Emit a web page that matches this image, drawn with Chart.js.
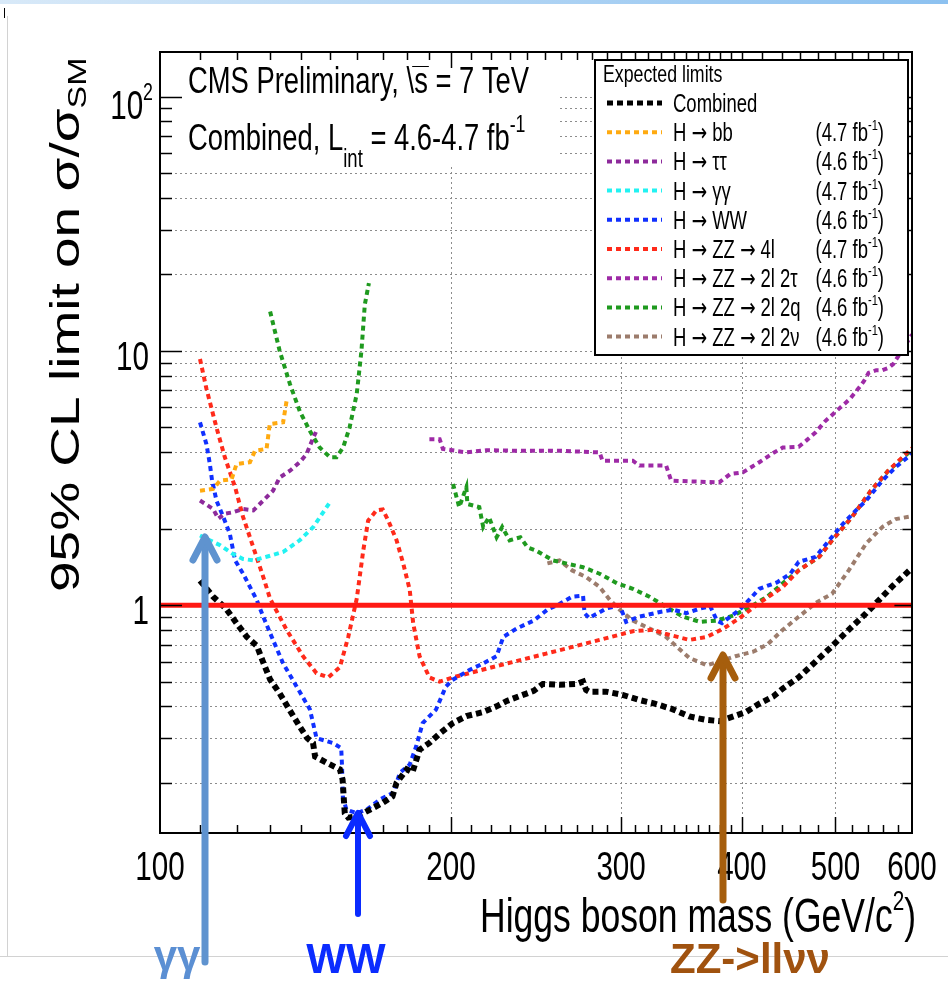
<!DOCTYPE html>
<html>
<head>
<meta charset="utf-8">
<script src="https://cdn.jsdelivr.net/npm/chart.js@4.4.1/dist/chart.umd.min.js"></script>
<style>
  html, body { margin: 0; padding: 0; background: #fff; }
  canvas { display: block; }
</style>
</head>
<body>
<canvas id="c" width="948" height="984"></canvas>
<script>
// expected 95% CL limits on sigma/sigma_SM vs Higgs mass (GeV/c^2)
const massCombined = [110, 113.5, 117, 120, 123, 126, 128, 130, 133, 136, 139.5, 142, 144, 144.7, 148.7, 153.5, 154.5, 155.3, 156.6, 160, 165, 170, 174, 175.7, 180, 182.5, 185.6, 190, 195, 201, 207.5, 216, 223, 228.5, 236, 243.6, 249, 259, 270, 274, 276, 278, 289.5, 301, 313, 325, 339, 353, 367, 379, 392, 404, 417, 431, 441, 458, 477, 496, 516, 538, 555, 573, 600];
const limitCombined = [1.25, 1.08, 0.97, 0.85, 0.75, 0.69, 0.59, 0.51, 0.45, 0.39, 0.333, 0.30, 0.287, 0.254, 0.24, 0.226, 0.206, 0.152, 0.146, 0.148, 0.157, 0.167, 0.177, 0.20, 0.226, 0.22, 0.27, 0.287, 0.314, 0.344, 0.366, 0.38, 0.40, 0.42, 0.44, 0.46, 0.49, 0.486, 0.49, 0.50, 0.464, 0.457, 0.457, 0.444, 0.424, 0.41, 0.39, 0.365, 0.354, 0.35, 0.365, 0.38, 0.41, 0.437, 0.47, 0.52, 0.60, 0.69, 0.80, 0.93, 1.05, 1.19, 1.40];

const massBB = [110, 113.5, 115.4, 118.6, 120, 123.9, 125.4, 128.9, 129.9, 134.1, 135.2];
const limitBB = [2.82, 2.87, 3.09, 3.13, 3.59, 3.65, 4.05, 4.12, 5.16, 5.24, 6.36];

const massTauTau = [110, 113.5, 114.9, 116.7, 119, 121.9, 124.9, 127.9, 130.9, 133, 136.3, 139.5, 141.8, 144.1, 145];
const limitTauTau = [2.58, 2.39, 2.19, 2.29, 2.32, 2.39, 2.36, 2.58, 2.82, 3.18, 3.38, 3.65, 3.93, 4.57, 4.8];

const massGamGam = [110, 112.6, 115.4, 119, 121.9, 124.9, 128.9, 134.1, 139.5, 144.1, 150];
const limitGamGam = [1.88, 1.80, 1.72, 1.59, 1.52, 1.50, 1.55, 1.62, 1.80, 2.03, 2.55];

const massWW = [110, 111.7, 112.6, 113.2, 114.4, 116.3, 118.1, 119.6, 121.9, 123.9, 125.9, 127.9, 130.9, 134.1, 138.4, 142.9, 145.2, 151, 154, 154.3, 154.6, 155.9, 159.8, 163.6, 168.9, 174.3, 177.1, 181.3, 184.1, 187, 193, 197.6, 200.7, 209, 216, 223, 226.6, 234, 243.6, 251.7, 259, 267, 274, 275, 278, 289.5, 299, 303.6, 313, 329, 339.5, 350.5, 362, 371, 377, 381.5, 389, 398, 408, 417, 435, 449, 458, 477, 492.5, 509, 525, 538, 559, 577, 594, 600];
const limitWW = [5.24, 4.3, 3.6, 3.1, 2.58, 2.22, 1.91, 1.50, 1.33, 1.18, 1.05, 0.90, 0.73, 0.59, 0.48, 0.39, 0.30, 0.287, 0.274, 0.232, 0.177, 0.157, 0.152, 0.157, 0.172, 0.183, 0.219, 0.236, 0.278, 0.344, 0.388, 0.478, 0.508, 0.556, 0.59, 0.63, 0.75, 0.81, 0.87, 0.96, 1.01, 1.08, 1.09, 0.93, 0.89, 0.97, 1.0, 0.86, 0.90, 0.94, 0.96, 0.93, 0.97, 0.99, 0.87, 0.85, 0.90, 0.96, 1.06, 1.16, 1.23, 1.33, 1.48, 1.55, 1.80, 2.09, 2.36, 2.58, 3.09, 3.49, 3.82, 3.95];

const massZZ4l = [110, 111.7, 114.4, 116.7, 119.6, 121.9, 124.9, 127.9, 130, 135.2, 140.6, 145.2, 149.3, 153.5, 156.6, 159.8, 162.3, 164.2, 167.5, 170, 172.3, 175.7, 178.5, 181.3, 182.8, 185.6, 190, 194.7, 201, 224.6, 251, 285, 308.5, 323.6, 334, 353, 368, 383, 398, 417, 441, 458, 481, 496, 520, 544, 567, 594, 600];
const limitZZ4l = [9.3, 7.1, 5.0, 3.82, 2.91, 2.22, 1.69, 1.29, 1.06, 0.80, 0.63, 0.54, 0.52, 0.57, 0.75, 1.06, 1.64, 2.15, 2.36, 2.38, 2.15, 1.8, 1.46, 1.15, 0.85, 0.63, 0.52, 0.50, 0.52, 0.58, 0.645, 0.73, 0.79, 0.80, 0.77, 0.73, 0.75, 0.81, 0.89, 1.02, 1.18, 1.37, 1.55, 1.80, 2.22, 2.82, 3.38, 4.0, 4.15];

const massZZ2l2tau = [190, 194.7, 196.2, 207.5, 217.6, 234, 259, 285, 287, 308.5, 313.4, 334, 338, 379, 389, 401, 417, 432, 441, 458, 466, 477, 488, 496, 505, 517, 529, 535, 541, 551, 559, 568, 574, 600];
const limitZZ2l2tau = [4.5, 4.5, 4.12, 3.99, 4.07, 4.05, 4.05, 3.99, 3.7, 3.7, 3.54, 3.54, 3.09, 3.04, 3.28, 3.33, 3.65, 3.99, 4.17, 4.2, 4.43, 4.79, 5.3, 5.6, 5.96, 6.45, 7.18, 7.6, 8.2, 8.4, 8.4, 8.6, 8.9, 11.6];

// two mass windows, gap in between
const massZZ2l2q = [130, 133, 136.3, 139.5, 142.9, 146.3, 149.9, 152.3, 154.7, 157.1, 159.8, 161.6, 162.9, 164.5, 180, 201, 204, 207.5, 208, 214, 216, 219, 223, 226, 230, 236, 240, 245, 255, 263, 274, 285, 297, 308.5, 321, 334, 348, 362, 377, 392, 408, 425, 441, 458, 481, 496, 520, 544, 567, 594, 600];
const limitZZ2l2q = [14.3, 10, 7.4, 5.8, 4.85, 4.17, 3.82, 3.82, 4.17, 5.0, 6.77, 10, 15.2, 18.5, null, 3.0, 2.43, 2.91, 2.5, 2.43, 2.03, 2.22, 1.85, 2.03, 1.8, 1.85, 1.69, 1.64, 1.5, 1.46, 1.41, 1.33, 1.22, 1.16, 1.08, 0.985, 0.90, 0.86, 0.87, 0.91, 0.985, 1.08, 1.22, 1.37, 1.55, 1.80, 2.22, 2.82, 3.38, 3.95, 4.1];

const massZZ2l2nu = [251.7, 259, 267, 276, 285, 292, 299, 308.5, 321, 334, 342, 353, 368, 379, 394, 411, 425, 441, 458, 477, 496, 516, 538, 559, 577, 600];
const limitZZ2l2nu = [1.46, 1.5, 1.37, 1.29, 1.18, 1.05, 0.96, 0.87, 0.81, 0.75, 0.69, 0.62, 0.58, 0.60, 0.63, 0.656, 0.70, 0.80, 0.90, 1.02, 1.11, 1.37, 1.75, 2.03, 2.18, 2.24];

const legendLabels = ['Combined', 'H \u2192 bb', 'H \u2192 \u03c4\u03c4', 'H \u2192 \u03b3\u03b3', 'H \u2192 WW', 'H \u2192 ZZ \u2192 4l', 'H \u2192 ZZ \u2192 2l 2\u03c4', 'H \u2192 ZZ \u2192 2l 2q', 'H \u2192 ZZ \u2192 2l 2\u03bd'];
const lumiLabels = [null, '4.7', '4.6', '4.7', '4.6', '4.7', '4.6', '4.6', '4.6'];

const xTickLabels = [100, 200, 300, 400, 500, 600];
const xGridValues = [200, 300, 400, 500];
const yTickLabels = [1, 10, 100];
const smLine = 1;

const channels = [
  { mass: massCombined, limit: limitCombined, color: '#000000', width: 6, dash: [6, 4] },
  { mass: massBB, limit: limitBB, color: '#ffaa10', width: 4, dash: [5, 4] },
  { mass: massTauTau, limit: limitTauTau, color: '#8d2a9b', width: 4, dash: [5, 4] },
  { mass: massGamGam, limit: limitGamGam, color: '#22f2f2', width: 4, dash: [5, 4] },
  { mass: massWW, limit: limitWW, color: '#1030ff', width: 4, dash: [5, 4] },
  { mass: massZZ4l, limit: limitZZ4l, color: '#ff2a1a', width: 4, dash: [5, 4] },
  { mass: massZZ2l2tau, limit: limitZZ2l2tau, color: '#9e2aa6', width: 4, dash: [5, 4] },
  { mass: massZZ2l2q, limit: limitZZ2l2q, color: '#1f9a1f', width: 4, dash: [5, 4] },
  { mass: massZZ2l2nu, limit: limitZZ2l2nu, color: '#9c7c6c', width: 4, dash: [5, 4] }
];

const FONT = '"Liberation Sans", Arial, Helvetica, sans-serif';
const ARROW_FONT = '"DejaVu Sans", sans-serif';
const SQ = 0.74; // ROOT text looks horizontally compressed

function fontFor(ch, size) {
  return size + 'px ' + (ch === '\u2192' ? ARROW_FONT : FONT);
}

// split text so that arrows get a font with a full-size glyph
function pieces(s) {
  return s.split(/(\u2192)/).filter(t => t.length);
}

function textW(ctx, s, size) {
  ctx.save();
  let w = 0;
  pieces(s).forEach(t => { ctx.font = fontFor(t, size); w += ctx.measureText(t).width; });
  ctx.restore();
  return w;
}

// draws a list of [text, size, dy] pieces on one line
function runs(ctx, parts, x, y, align, sq) {
  const k = sq === undefined ? SQ : sq;
  const total = parts.reduce((a, p) => a + textW(ctx, p[0], p[1]) * k, 0);
  let cx = align === 'right' ? x - total : align === 'center' ? x - total / 2 : x;
  parts.forEach(p => {
    pieces(p[0]).forEach(t => {
      ctx.save();
      ctx.translate(cx, y + (p[2] || 0));
      ctx.scale(k, 1);
      ctx.font = fontFor(t, p[1]);
      ctx.textAlign = 'left';
      ctx.textBaseline = 'alphabetic';
      ctx.fillText(t, 0, 0);
      ctx.restore();
      cx += textW(ctx, t, p[1]) * k;
    });
  });
  return cx;
}

function seg(ctx, x1, y1, x2, y2) {
  ctx.beginPath();
  ctx.moveTo(x1, y1);
  ctx.lineTo(x2, y2);
  ctx.stroke();
}

function arrow(ctx, x, tip, end, color, lw) {
  ctx.save();
  ctx.strokeStyle = color;
  ctx.lineWidth = lw;
  ctx.lineCap = 'round';
  ctx.lineJoin = 'round';
  seg(ctx, x, end, x, tip + 3);
  ctx.beginPath();
  ctx.moveTo(x - 12, tip + 23);
  ctx.lineTo(x, tip);
  ctx.lineTo(x + 12, tip + 23);
  ctx.stroke();
  ctx.restore();
}

function yTickValues() {
  const out = [];
  [0.1, 1, 10].forEach(d => { for (let k = 1; k <= 9; k++) out.push(+(k * d).toFixed(3)); });
  out.push(100);
  return out.filter(v => v >= 0.2);
}

function xTickValues() {
  const out = [];
  for (let m = 110; m <= 400; m += 10) out.push(m);
  for (let m = 420; m < 600; m += 20) out.push(m);
  return out;
}

const cmsPlot = {
  id: 'cmsPlot',
  beforeDatasetsDraw(chart) {
    const { ctx, chartArea: a, scales: { x, y } } = chart;
    ctx.save();
    // dotted grid
    ctx.strokeStyle = '#8c8c8c';
    ctx.lineWidth = 1;
    ctx.setLineDash([2, 3]);
    yTickValues().forEach(v => {
      const py = Math.round(y.getPixelForValue(v)) + 0.5;
      seg(ctx, a.left, py, a.right, py);
    });
    xGridValues.forEach(m => {
      const px = Math.round(x.getPixelForValue(m)) + 0.5;
      seg(ctx, px, a.top, px, a.bottom);
    });
    ctx.setLineDash([]);

    // header pave
    ctx.fillStyle = '#fff';
    ctx.fillRect(a.left + 1, a.top + 1, 396, 114);
    ctx.fillStyle = '#000';
    const endSlash = runs(ctx, [['CMS Preliminary, \\', 37]], 188, 93);
    const sW = textW(ctx, 's', 37) * SQ;
    runs(ctx, [['s = 7 TeV', 37]], endSlash, 93);
    ctx.lineWidth = 1;
    ctx.strokeStyle = '#000';
    seg(ctx, endSlash - 2, 66.5, endSlash + sW + 1, 66.5);
    runs(ctx, [['Combined, L', 37], ['int', 25, 17], [' = 4.6-4.7 fb', 37], ['-1', 24, -18]], 188, 150);
    ctx.restore();
  },
  afterDatasetsDraw(chart) {
    const { ctx, chartArea: a, scales: { x, y } } = chart;
    ctx.save();

    // SM reference line
    ctx.strokeStyle = '#ff1a14';
    ctx.lineWidth = 5;
    const p1 = y.getPixelForValue(smLine);
    seg(ctx, a.left, p1, a.right, p1);

    // frame and ticks
    ctx.strokeStyle = '#000';
    ctx.lineWidth = 2;
    ctx.strokeRect(a.left, a.top, a.right - a.left, a.bottom - a.top);
    ctx.lineWidth = 1.5;
    yTickValues().forEach(v => {
      const py = Math.round(y.getPixelForValue(v)) + 0.5;
      const len = yTickLabels.includes(v) ? 22 : 12;
      seg(ctx, a.left, py, a.left + len, py);
      seg(ctx, a.right, py, a.right - len * 0.8, py);
    });
    xTickValues().forEach(m => {
      const px = Math.round(x.getPixelForValue(m)) + 0.5;
      const len = m % 100 === 0 ? 16 : 8;
      seg(ctx, px, a.bottom, px, a.bottom - len);
      seg(ctx, px, a.top, px, a.top + len);
    });

    // tick labels
    ctx.fillStyle = '#000';
    xTickLabels.forEach(m => {
      runs(ctx, [[String(m), 40]], x.getPixelForValue(m), 880, 'center');
    });
    yTickLabels.forEach(v => {
      const py = y.getPixelForValue(v);
      if (v === 100) runs(ctx, [['10', 40], ['2', 24, -19]], 153, py + 22, 'right');
      else runs(ctx, [[String(v), 40]], 149, py + 19, 'right');
    });

    // axis titles
    runs(ctx, [['Higgs boson mass (GeV/c', 48], ['2', 28, -22], [')', 48]], 916, 932, 'right');
    ctx.save();
    ctx.translate(79, 592);
    ctx.scale(SQ, 1);
    ctx.rotate(-Math.PI / 2);
    runs(ctx, [['95% CL limit on \u03c3/\u03c3', 55], ['SM', 34, 10]], 0, 0, 'left', 1);
    ctx.restore();

    // legend
    const lx = 595, ly = 60, lw = 313, lh = 295;
    ctx.fillStyle = '#fff';
    ctx.fillRect(lx, ly, lw, lh);
    ctx.strokeStyle = '#000';
    ctx.lineWidth = 2;
    ctx.strokeRect(lx, ly, lw, lh);
    ctx.fillStyle = '#000';
    runs(ctx, [['Expected limits', 24]], 603, 82);
    chart.data.datasets.forEach((ds, i) => {
      const cy = 103 + i * 29.2;
      ctx.save();
      ctx.strokeStyle = ds.borderColor;
      ctx.lineWidth = i === 0 ? 5 : 4;
      ctx.setLineDash(ds.borderDash);
      seg(ctx, 607, cy, 662, cy);
      ctx.restore();
      ctx.fillStyle = '#000';
      runs(ctx, [[legendLabels[i], 25]], 673, cy + 9);
      if (lumiLabels[i]) {
        runs(ctx, [['(' + lumiLabels[i] + ' fb', 25], ['-1', 15, -11], [')', 25]], 884, cy + 9, 'right');
      }
    });

    ctx.restore();
  },
  afterDraw(chart) {
    const { ctx } = chart;
    ctx.save();
    // slide frame
    const g = ctx.createLinearGradient(0, 0, 948, 0);
    g.addColorStop(0, '#d8e9f8');
    g.addColorStop(1, '#8cc1f0');
    ctx.fillStyle = g;
    ctx.fillRect(0, 0, 948, 4);
    ctx.strokeStyle = '#d2d2d2';
    ctx.lineWidth = 1;
    seg(ctx, 7.5, 16, 7.5, 956);
    seg(ctx, 0, 956.5, 948, 956.5);
    ctx.strokeStyle = '#000';
    seg(ctx, 4.5, 8, 4.5, 18);

    // channel markers
    arrow(ctx, 205, 537, 962, '#5f93cf', 7);
    arrow(ctx, 358, 813, 914, '#0a2bff', 6);
    arrow(ctx, 723, 655, 900, '#a65e0d', 7);
    ctx.textAlign = 'center';
    ctx.textBaseline = 'alphabetic';
    ctx.font = 'bold 42px ' + FONT;
    ctx.fillStyle = '#5b8fd3';
    ctx.fillText('\u03b3\u03b3', 177, 970);
    ctx.fillStyle = '#0b2cff';
    ctx.fillText('WW', 346, 973);
    ctx.fillStyle = '#a0520f';
    ctx.fillText('ZZ->ll\u03bd\u03bd', 750, 973);
    ctx.restore();
  }
};

new Chart(document.getElementById('c'), {
  type: 'line',
  data: {
    datasets: channels.map((ch, i) => ({
      label: legendLabels[i],
      data: ch.mass.map((m, j) => ({ x: m, y: ch.limit[j] })),
      borderColor: ch.color,
      borderWidth: ch.width,
      borderDash: ch.dash,
      pointRadius: 0,
      tension: 0,
      fill: false,
      spanGaps: false
    }))
  },
  options: {
    responsive: false,
    animation: false,
    devicePixelRatio: 1,
    layout: { padding: { left: 160, right: 36, top: 52, bottom: 151 } },
    plugins: { legend: { display: false }, tooltip: { enabled: false } },
    scales: {
      x: { type: 'logarithmic', min: 100, max: 600, display: false },
      y: { type: 'logarithmic', min: 0.127, max: 150, display: false }
    }
  },
  plugins: [cmsPlot]
});
</script>
</body>
</html>
